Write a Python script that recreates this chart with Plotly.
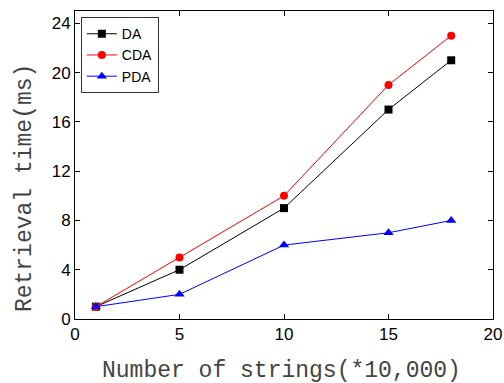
import plotly.graph_objects as go

x_vals = [1, 5, 10, 15, 18]
da = [1, 4, 9, 17, 21]
cda = [1, 5, 10, 19, 23]
pda = [1, 2, 6, 7, 8]

series = [
    ("DA", da, "black", "square", 8),
    ("CDA", cda, "red", "circle", 8),
    ("PDA", pda, "blue", "triangle-up", 9),
]

fig = go.Figure()
for name, ys, color, sym, size in series:
    fig.add_trace(go.Scatter(
        x=x_vals, y=ys, name=name, mode="lines+markers",
        line=dict(color=color, width=1),
        marker=dict(color=color, symbol=sym, size=size),
    ))

title_font = dict(family="Liberation Mono", size=23, color="#444")
tick_font = dict(family="Liberation Sans, Arial", size=17, color="black")

fig.update_layout(
    width=504, height=383,
    margin=dict(l=75, r=11, t=11, b=64),
    plot_bgcolor="white", paper_bgcolor="white",
    showlegend=True,
    legend=dict(
        x=0.014, y=0.98, xanchor="left", yanchor="top",
        bgcolor="white", bordercolor="#333", borderwidth=1,
        font=dict(family="Liberation Sans, Arial", size=14, color="black"),
        itemwidth=30, tracegroupgap=0,
    ),
    xaxis=dict(
        range=[0, 20], tickvals=[0, 5, 10, 15, 20],
        ticks="inside", ticklen=5, tickcolor="black",
        showline=True, linecolor="black", linewidth=1, mirror="allticks",
        showgrid=False, zeroline=False, tickfont=tick_font, automargin=False,
    ),
    yaxis=dict(
        range=[0, 25], tickvals=[0, 4, 8, 12, 16, 20, 24],
        ticks="inside", ticklen=5, tickcolor="black",
        showline=True, linecolor="black", linewidth=1, mirror="allticks",
        showgrid=False, zeroline=False, tickfont=tick_font, automargin=False,
    ),
    annotations=[
        dict(text="Number of strings(*10,000)", xref="paper", yref="paper",
             x=0.494, y=0, xanchor="center", yanchor="middle", yshift=-52,
             showarrow=False, font=title_font),
        dict(text="Retrieval time(ms)", xref="paper", yref="paper",
             x=0, y=0.425, xanchor="center", yanchor="middle", xshift=-50,
             textangle=-90, showarrow=False, font=title_font),
    ],
)

fig.write_html("out.html")
